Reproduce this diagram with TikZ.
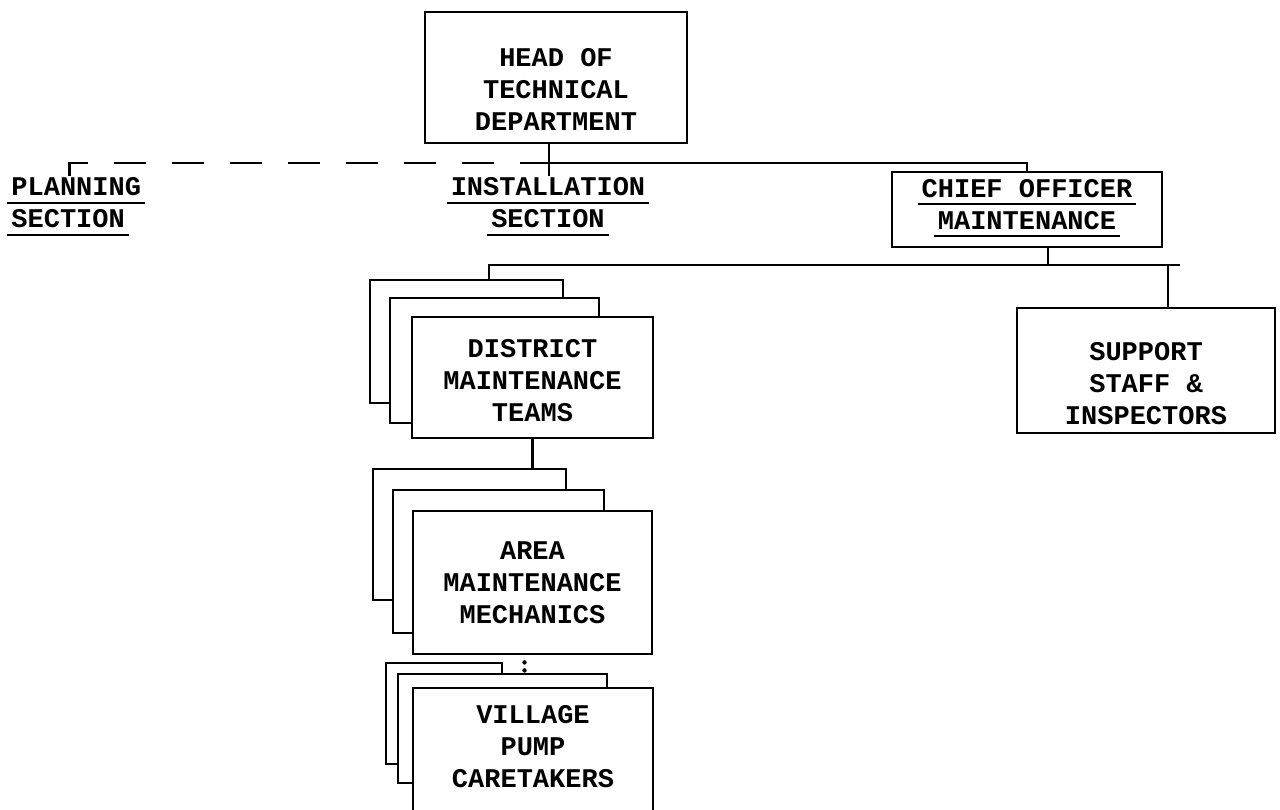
\documentclass[tikz,border=0pt]{standalone}
\usepackage{fontspec}
\newfontfamily\typer{Liberation Mono}
\newcommand{\ulined}[1]{\setbox0\hbox{#1}\rlap{\hskip-2pt\smash{\rule[-4pt]{\dimexpr\wd0+4pt\relax}{1pt}}}\box0}
\newcommand{\dropstrut}[1]{\rule{0pt}{\dimexpr 8pt+#1\relax}}
\newcommand{\liftstrut}[1]{\rule[-#1]{0pt}{#1}}

\begin{document}
\begin{tikzpicture}[x=0.5pt, y=-0.5pt,
    line width=1.4pt,
    every node/.style={font={\typer\bfseries\fontsize{13.5pt}{16pt}\selectfont}, inner sep=0pt},
    box/.style={draw, fill=white, align=center},
    heading/.style={align=center},
    dashline/.style={dash pattern=on 16pt off 13pt},
    dotlink/.style={line width=2.2pt, line cap=round, dash pattern=on 0pt off 4pt, shorten <=3.5pt}]
  \useasboundingbox (0,0) rectangle (1280,809);
  \clip (0,0) rectangle (1280,809);

  \node[box, minimum width=131pt, minimum height=65.5pt] (head) at (556,77.5) {\dropstrut{12.5pt}HEAD OF\\TECHNICAL\\DEPARTMENT};
  \node[heading, anchor=west, align=left] (plan) at (10,203) {\ulined{PLANNING}\\\ulined{SECTION}};
  \node[heading] (inst) at (548,203) {\ulined{INSTALLATION}\\\ulined{SECTION}};
  \node[box, minimum width=135pt, minimum height=37.5pt] (chief) at (1027,209.5) {\ulined{CHIEF OFFICER}\\\ulined{MAINTENANCE}\liftstrut{5.5pt}};
  \node[box, minimum width=129pt, minimum height=62.5pt] (support) at (1146,370.5) {\dropstrut{14.5pt}SUPPORT\\STAFF \&\\INSPECTORS};

  % district teams
  \node[box, minimum width=96.5pt, minimum height=61.5pt] (dist3) at (466.5,341.5) {};
  \node[box, minimum width=104.5pt, minimum height=62.5pt] (dist2) at (494.5,360.5) {};
  \node[box, minimum width=120.5pt, minimum height=60.5pt] (dist) at (532.5,377.5) {\dropstrut{4pt}DISTRICT\\MAINTENANCE\\TEAMS};

  % area mechanics
  \node[box, minimum width=96.5pt, minimum height=65.5pt] (area3) at (469.5,534.5) {};
  \node[box, minimum width=105.5pt, minimum height=71.5pt] (area2) at (498.5,561.5) {};
  \node[box, minimum width=119.5pt, minimum height=71.5pt] (area) at (532.5,582.5) {AREA\\MAINTENANCE\\MECHANICS};

  % village caretakers
  \node[box, minimum width=58pt, minimum height=50.5pt] (vill3) at (444,713.5) {};
  \node[box, minimum width=104.5pt, minimum height=54.5pt] (vill2) at (502.5,728.5) {};
  \node[box, minimum width=120pt, minimum height=71pt] (vill) at (533,759) {VILLAGE\\PUMP\\CARETAKERS\liftstrut{13pt}};

  \coordinate (bus) at (549,163);
  \coordinate (tee) at (1048,265);

  \draw (head.south -| bus) -- (inst.north -| bus);
  \draw[dashline] ([xshift=-3.5pt]plan.north) |- (bus);
  \draw (bus) -| (chief.north);
  \draw (chief.south -| tee) -- (tee);
  \draw ([xshift=11.25pt]dist3.north) |- ([xshift=17pt]support.north |- tee);
  \draw ([xshift=11pt]support.north) -- ([xshift=11pt]support.north |- tee);
  \draw (dist.south) -- (dist.south |- area3.north);
  \draw[dotlink] ([xshift=-4pt]area.south) -- ([xshift=-4pt]area.south |- vill2.north);
\end{tikzpicture}
\end{document}
